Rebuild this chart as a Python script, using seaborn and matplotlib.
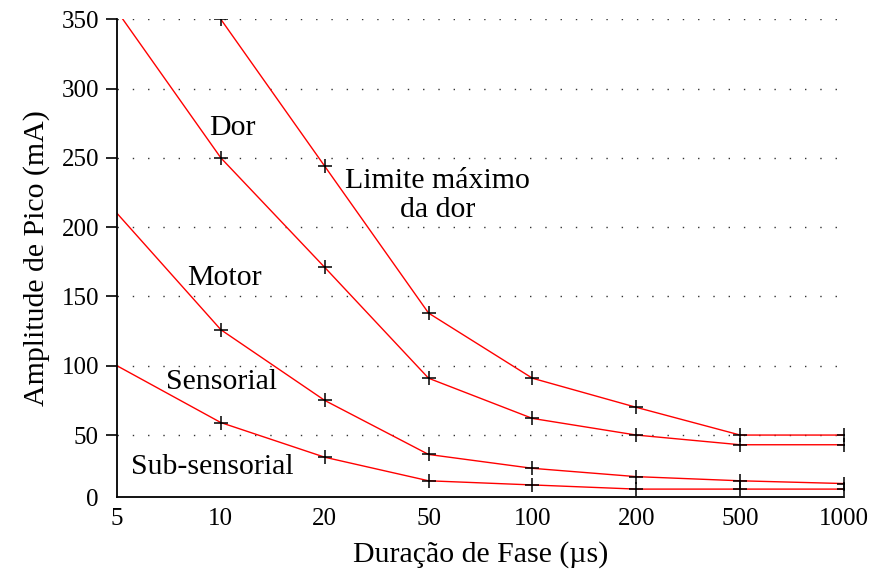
"""
plot.py - Limiares de estimulação: amplitude de pico vs duração de fase.
"""

import numpy as np
import pandas as pd
import matplotlib
matplotlib.use('Agg')
import matplotlib.pyplot as plt
import seaborn as sns

# === DATA ===
duracao = [5, 10, 20, 50, 100, 200, 500, 1000]          # µs, eixo categórico
limite_dor = [np.nan, 350, 244, 138, 91, 70, 50, 50]
dor = [356, 250, 171, 91, 62, 50, 43, 43]
motor = [210, 126, 75, 36, 26, 20, 17, 15]
sensorial = [100, 59, 34, 17, 14, 11, 11, 11]
yticks = [0, 50, 100, 150, 200, 250, 300, 350]

# === STYLE ===
sns.set_style('white')
plt.rcParams['font.family'] = ['Liberation Serif', 'DejaVu Serif']
for k in ['text.color', 'axes.labelcolor', 'xtick.color', 'ytick.color']:
    plt.rcParams[k] = 'black'

# === LONG TABLE ===
series = {'limite': limite_dor, 'dor': dor, 'motor': motor, 'sensorial': sensorial}
pos = np.arange(len(duracao))
df = pd.concat([pd.DataFrame({'pos': pos, 'amp': v, 'curva': k}) for k, v in series.items()],
               ignore_index=True).dropna()

fig = plt.figure(figsize=(8.72, 5.76), dpi=100)
ax = fig.add_axes([117 / 872, 1 - 497 / 576, (844 - 117) / 872, (497 - 19.3) / 576])

sns.lineplot(data=df, x='pos', y='amp', hue='curva', palette=['#ff0000'] * 4,
             estimator=None, sort=False, linewidth=1.0, legend=False, ax=ax)
sns.scatterplot(data=df[df['pos'] >= 1], x='pos', y='amp', marker='+', color='black',
                s=110, linewidth=1.1, legend=False, ax=ax, zorder=3)

# === AXES ===
ax.set_xlim(0, len(duracao) - 1)
ax.set_ylim(5.3, 350)
ax.set_xticks(pos)
ax.set_xticklabels([str(d) for d in duracao], fontsize=18)
ax.set_yticks([5.3] + yticks[1:])
ax.set_yticklabels([str(t) for t in yticks], fontsize=18)
ax.tick_params(axis='x', length=0, pad=8)
ax.tick_params(axis='y', length=8, width=1.2, color='black', pad=5, direction='out', left=True)
ax.yaxis.get_major_ticks()[0].tick1line.set_visible(False)

for g in yticks[1:]:
    ax.axhline(g, color='#333333', linewidth=1.0, linestyle=(0, (1, 10)), zorder=0)

sns.despine(ax=ax)
for s in ['left', 'bottom']:
    ax.spines[s].set_color('black')
    ax.spines[s].set_linewidth(1.3)

ax.set_xlabel('Duração de Fase (µs)', fontsize=21.5, labelpad=8)
ax.set_ylabel('Amplitude de Pico (mA)', fontsize=21.5, labelpad=8)

# === REGION LABELS ===
txt = dict(fontsize=21.5, ha='center', va='center')
ax.text(1.11, 271.6, 'Dor', **txt)
ax.text(3.09, 223, 'Limite máximo\nda dor', linespacing=1.15, **txt)
ax.text(1.03, 163, 'Motor', **txt)
ax.text(1.01, 88, 'Sensorial', **txt)
ax.text(0.92, 27, 'Sub-sensorial', **txt)

plt.savefig('out.png', dpi=100)
